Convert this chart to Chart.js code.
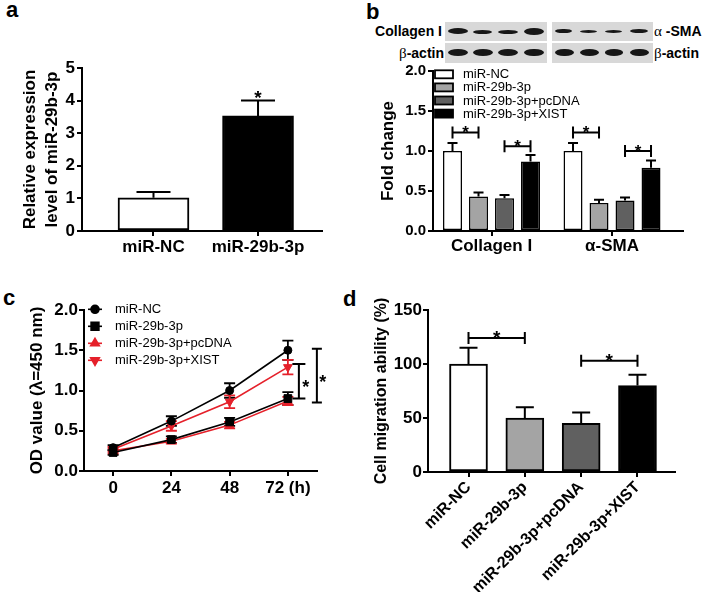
<!DOCTYPE html>
<html>
<head>
<meta charset="utf-8">
<script src="https://cdn.jsdelivr.net/npm/chart.js@4.4.1/dist/chart.umd.min.js"></script>
<style>
html,body{margin:0;padding:0;background:#fff;}
#fig{position:relative;width:708px;height:592px;overflow:hidden;background:#fff;font-family:"Liberation Sans",Arial,Helvetica,sans-serif;color:#000;}
#fig canvas{position:absolute;}
.panel{position:absolute;font-weight:bold;font-size:22px;line-height:22px;}
.blot{position:absolute;background:#d8d8d8;}
.band{position:absolute;background:#161616;border-radius:50%;filter:blur(0.7px);}
.blab{position:absolute;font-weight:bold;font-size:14px;line-height:16px;white-space:nowrap;}
.greek{font-weight:normal;font-family:"Liberation Serif","DejaVu Serif",serif;font-size:15px;}
</style>
</head>
<body>
<div id="fig">
  <div class="panel" style="left:6px;top:-1px;">a</div>
  <div class="panel" style="left:366px;top:1px;">b</div>
  <div class="panel" style="left:3px;top:287px;">c</div>
  <div class="panel" style="left:343px;top:288px;">d</div>

  <!-- western blot strips for panel b -->
  <div class="blot" style="left:445px;top:22px;width:102px;height:19px;"></div>
  <div class="blot" style="left:552px;top:22px;width:101px;height:19px;"></div>
  <div class="blot" style="left:445px;top:43px;width:102px;height:20px;"></div>
  <div class="blot" style="left:552px;top:43px;width:101px;height:20px;"></div>

  <div class="band" style="left:448px;top:28px;width:20px;height:6px;"></div>
  <div class="band" style="left:473px;top:29.5px;width:19px;height:4px;"></div>
  <div class="band" style="left:498px;top:29.5px;width:20px;height:4px;"></div>
  <div class="band" style="left:524px;top:28px;width:20px;height:7px;"></div>

  <div class="band" style="left:555px;top:28.5px;width:17px;height:4.5px;"></div>
  <div class="band" style="left:580px;top:29.5px;width:17px;height:3px;"></div>
  <div class="band" style="left:605px;top:29.5px;width:17px;height:3px;"></div>
  <div class="band" style="left:630px;top:28.5px;width:18px;height:4px;"></div>

  <div class="band" style="left:448px;top:49px;width:20px;height:7px;"></div>
  <div class="band" style="left:473px;top:49px;width:20px;height:7px;"></div>
  <div class="band" style="left:498px;top:49px;width:20px;height:7px;"></div>
  <div class="band" style="left:524px;top:48.5px;width:20px;height:7.5px;"></div>

  <div class="band" style="left:555px;top:48.5px;width:19px;height:7.5px;"></div>
  <div class="band" style="left:580px;top:49px;width:19px;height:7px;"></div>
  <div class="band" style="left:605px;top:49px;width:18px;height:6.5px;"></div>
  <div class="band" style="left:630px;top:48.5px;width:19px;height:7.5px;"></div>

  <div class="blab" style="right:266px;top:23px;">Collagen I</div>
  <div class="blab" style="right:264px;top:45px;"><span class="greek">β</span>-actin</div>
  <div class="blab" style="left:654px;top:23px;"><span class="greek">α</span> -SMA</div>
  <div class="blab" style="left:654px;top:45px;"><span class="greek">β</span>-actin</div>

  <canvas id="ca" width="340" height="240" style="left:0;top:40px;"></canvas>
  <canvas id="cb" width="328" height="230" style="left:380px;top:60px;"></canvas>
  <canvas id="cc" width="340" height="230" style="left:0;top:290px;"></canvas>
  <canvas id="cd" width="363" height="302" style="left:345px;top:290px;"></canvas>
</div>
<script>
// ---------------- DATA ----------------
// Panel a
const aCategories = ['miR-NC', 'miR-29b-3p'];
const aValues = [1.02, 3.53];
const aErrors = [0.18, 0.47];
const aYTicks = [0, 1, 2, 3, 4, 5];
const aSignificant = [false, true];

// Panel b
const bGroups = ['Collagen I', 'α-SMA'];
const bSeries = ['miR-NC', 'miR-29b-3p', 'miR-29b-3p+pcDNA', 'miR-29b-3p+XIST'];
const bNC = [1.00, 1.00];
const b29b = [0.43, 0.35];
const bPcDNA = [0.41, 0.38];
const bXIST = [0.87, 0.79];
const bErrNC = [0.10, 0.10];
const bErr29b = [0.05, 0.04];
const bErrPcDNA = [0.04, 0.04];
const bErrXIST = [0.08, 0.09];
const bYTicks = [0, 0.5, 1.0, 1.5, 2.0];
const bBrackets = [
  {group: 0, from: 0, to: 1, y: 1.23},
  {group: 0, from: 2, to: 3, y: 1.06},
  {group: 1, from: 0, to: 1, y: 1.23},
  {group: 1, from: 2, to: 3, y: 1.00}
];

// Panel c
const cHours = [0, 24, 48, 72];
const cSeries = ['miR-NC', 'miR-29b-3p', 'miR-29b-3p+pcDNA', 'miR-29b-3p+XIST'];
const cNC = [0.29, 0.62, 1.00, 1.50];
const c29b = [0.23, 0.39, 0.61, 0.90];
const cPcDNA = [0.25, 0.37, 0.57, 0.87];
const cXIST = [0.27, 0.56, 0.86, 1.29];
const cErrNC = [0.03, 0.06, 0.09, 0.12];
const cErr29b = [0.03, 0.04, 0.05, 0.08];
const cErrPcDNA = [0.03, 0.03, 0.04, 0.05];
const cErrXIST = [0.03, 0.06, 0.08, 0.09];
const cYTicks = [0, 0.5, 1.0, 1.5, 2.0];
const cBrackets = [{hi: 1.33, lo: 0.90}, {hi: 1.52, lo: 0.85}];

// Panel d
const dCategories = ['miR-NC', 'miR-29b-3p', 'miR-29b-3p+pcDNA', 'miR-29b-3p+XIST'];
const dValues = [100, 50, 45, 80];
const dErrors = [15, 10, 10, 10];
const dYTicks = [0, 50, 100, 150];
const dBrackets = [{from: 0, to: 1, y: 124}, {from: 2, to: 3, y: 103}];

// ---------------- STYLE ----------------
const FONT = '"Liberation Sans", Arial, Helvetica, sans-serif';
Chart.defaults.font.family = FONT;
Chart.defaults.color = '#000';
const grayFills = ['#ffffff', '#a4a4a4', '#606060', '#000000'];

function gridOpts(len) {
  return {display: true, drawOnChartArea: false, drawTicks: true, tickLength: len, color: '#000', lineWidth: 2, offset: false};
}
const borderOpts = {display: true, color: '#000', width: 2};

function drawErr(chart, opts) {
  const ctx = chart.ctx, ys = chart.scales.y;
  ctx.save();
  ctx.lineWidth = opts.lineWidth || 2;
  chart.data.datasets.forEach((ds, di) => {
    if (!ds.errors) return;
    const meta = chart.getDatasetMeta(di);
    ctx.strokeStyle = ds.errorColor || '#000';
    meta.data.forEach((el, i) => {
      const v = ds.data[i].y, e = ds.errors[i];
      const x = el.x;
      const yTop = ys.getPixelForValue(v + e);
      const yBot = ys.getPixelForValue(opts.both ? v - e : v);
      const hw = opts.cap / 2;
      ctx.beginPath();
      ctx.moveTo(x, yBot); ctx.lineTo(x, yTop);
      ctx.moveTo(x - hw, yTop); ctx.lineTo(x + hw, yTop);
      if (opts.both) { ctx.moveTo(x - hw, yBot); ctx.lineTo(x + hw, yBot); }
      ctx.stroke();
    });
  });
  ctx.restore();
}
const errPlugin = {
  id: 'errbars',
  beforeDatasetsDraw(chart, args, opts) { if (opts.before) drawErr(chart, opts); },
  afterDatasetsDraw(chart, args, opts) { if (!opts.before) drawErr(chart, opts); }
};

function drawBracket(ctx, x1, x2, y, tick) {
  ctx.beginPath();
  ctx.moveTo(x1, y); ctx.lineTo(x2, y);
  ctx.moveTo(x1, y - tick); ctx.lineTo(x1, y + tick);
  ctx.moveTo(x2, y - tick); ctx.lineTo(x2, y + tick);
  ctx.stroke();
}
function drawStar(ctx, x, baseline, size) {
  ctx.font = 'bold ' + size + 'px ' + FONT;
  ctx.textAlign = 'center';
  ctx.textBaseline = 'alphabetic';
  ctx.fillText('*', x, baseline);
}

function linearCatX(labels, min, max, height, fontSize, pad, rot) {
  return {
    type: 'linear', min: min, max: max, offset: false,
    afterBuildTicks: s => { s.ticks = labels.map((c, i) => ({value: i + 1})); },
    afterFit: s => { s.height = height; },
    ticks: {callback: v => labels[v - 1], font: {size: fontSize, weight: 'bold'}, padding: pad,
            autoSkip: false, minRotation: rot || 0, maxRotation: rot || 0},
    grid: gridOpts(5), border: borderOpts
  };
}
function valueY(ticks, width, fontSize, pad, fmt, title) {
  return {
    type: 'linear', min: ticks[0], max: ticks[ticks.length - 1],
    afterBuildTicks: s => { s.ticks = ticks.map(v => ({value: v})); },
    afterFit: s => { s.width = width; },
    ticks: {callback: fmt, font: {size: fontSize, weight: 'bold'}, padding: pad},
    grid: gridOpts(5), border: borderOpts,
    title: title
  };
}
const baseOpts = {responsive: false, animation: false, devicePixelRatio: 1, events: []};

// ---------------- PANEL A ----------------
new Chart(document.getElementById('ca'), {
  type: 'bar',
  data: {datasets: [{
    data: aValues.map((v, i) => ({x: i + 1, y: v})),
    errors: aErrors,
    backgroundColor: ['#ffffff', '#000000'], borderColor: '#000', borderWidth: 2, borderSkipped: false,
    barThickness: 71
  }]},
  options: Object.assign({}, baseOpts, {
    layout: {padding: {left: 0, top: 28, right: 18, bottom: 0}},
    plugins: {legend: {display: false}, tooltip: {enabled: false}, errbars: {cap: 34}},
    scales: {
      x: linearCatX(aCategories, 0.316, 2.612, 49, 17, 1),
      y: valueY(aYTicks, 82, 17, 2, v => String(v),
        {display: true, text: ['Relative expression', 'level of miR-29b-3p'],
         font: {size: 17, weight: 'bold', lineHeight: 1.32}, padding: {top: 19, bottom: 0}})
    }
  }),
  plugins: [errPlugin, {
    id: 'astar',
    afterDatasetsDraw(chart) {
      const ctx = chart.ctx, ys = chart.scales.y, meta = chart.getDatasetMeta(0);
      ctx.save(); ctx.fillStyle = '#000';
      aSignificant.forEach((s, i) => {
        if (!s) return;
        drawStar(ctx, meta.data[i].x, ys.getPixelForValue(aValues[i] + aErrors[i]) + 3, 19);
      });
      ctx.restore();
    }
  }]
});

// ---------------- PANEL B ----------------
const bValues = [bNC, b29b, bPcDNA, bXIST];
const bErrs = [bErrNC, bErr29b, bErrPcDNA, bErrXIST];
new Chart(document.getElementById('cb'), {
  type: 'bar',
  data: {datasets: bSeries.map((name, si) => ({
    label: name,
    data: bValues[si].map((v, gi) => ({x: gi + 1, y: v})),
    errors: bErrs[si],
    backgroundColor: grayFills[si], borderColor: '#000', borderWidth: 1.5, borderSkipped: false,
    categoryPercentage: 0.863, barPercentage: 0.73
  }))},
  options: Object.assign({}, baseOpts, {
    layout: {padding: {left: 0, top: 10, right: 25, bottom: 0}},
    plugins: {legend: {display: false}, tooltip: {enabled: false}, errbars: {cap: 10}},
    scales: {
      x: linearCatX(bGroups, 0.5145, 2.589, 59, 17, 0),
      y: valueY(bYTicks, 53, 15, 2, v => v.toFixed(1),
        {display: true, text: 'Fold change', font: {size: 17, weight: 'bold', lineHeight: 1}, padding: {top: 0, bottom: 0}})
    }
  }),
  plugins: [errPlugin, {
    id: 'bextras',
    afterDatasetsDraw(chart) {
      const ctx = chart.ctx, ys = chart.scales.y;
      ctx.save(); ctx.strokeStyle = '#000'; ctx.fillStyle = '#000'; ctx.lineWidth = 2;
      bBrackets.forEach(b => {
        const x1 = chart.getDatasetMeta(b.from).data[b.group].x;
        const x2 = chart.getDatasetMeta(b.to).data[b.group].x;
        const y = ys.getPixelForValue(b.y);
        drawBracket(ctx, x1, x2, y, 6);
        drawStar(ctx, (x1 + x2) / 2, y + 5.5, 17);
      });
      // legend
      const x0 = chart.chartArea.left + 2, y0 = chart.chartArea.top + 3.3, step = 13.1;
      ctx.font = '13px ' + FONT; ctx.textAlign = 'left'; ctx.textBaseline = 'middle';
      chart.data.datasets.forEach((ds, i) => {
        const y = y0 + i * step;
        ctx.fillStyle = ds.backgroundColor; ctx.fillRect(x0, y - 4, 18, 8);
        ctx.lineWidth = 1.8; ctx.strokeRect(x0, y - 4, 18, 8);
        ctx.fillStyle = '#000'; ctx.fillText(ds.label, x0 + 28, y + 0.5);
      });
      ctx.restore();
    }
  }]
});

// ---------------- PANEL C ----------------
const cValues = [cNC, c29b, cPcDNA, cXIST];
const cErrs = [cErrNC, cErr29b, cErrPcDNA, cErrXIST];
const cColors = ['#000000', '#000000', '#e5202a', '#e5202a'];
const cStyles = ['circle', 'rect', 'triangle', 'triangle'];
const cRot = [0, 0, 0, 180];
const cRadius = [4, 5.5, 5, 5];
new Chart(document.getElementById('cc'), {
  type: 'line',
  data: {datasets: cSeries.map((name, si) => ({
    label: name,
    data: cValues[si].map((v, i) => ({x: cHours[i], y: v})),
    errors: cErrs[si], errorColor: cColors[si],
    borderColor: cColors[si], backgroundColor: cColors[si], borderWidth: 1.6,
    pointStyle: cStyles[si], pointRotation: cRot[si], pointRadius: cRadius[si],
    pointBackgroundColor: cColors[si], pointBorderColor: cColors[si], pointBorderWidth: 1,
    tension: 0, fill: false
  }))},
  options: Object.assign({}, baseOpts, {
    layout: {padding: {left: 0, top: 20, right: 23, bottom: 0}},
    plugins: {legend: {display: false}, tooltip: {enabled: false}, errbars: {cap: 11, both: true, before: true, lineWidth: 1.8}},
    scales: {
      x: {
        type: 'linear', min: -12, max: 84, offset: false,
        afterBuildTicks: s => { s.ticks = cHours.map(v => ({value: v})); },
        afterFit: s => { s.height = 49; },
        ticks: {callback: v => v === cHours[cHours.length - 1] ? v + ' (h)' : String(v),
                font: {size: 17, weight: 'bold'}, padding: 2, autoSkip: false, maxRotation: 0},
        grid: gridOpts(5), border: borderOpts
      },
      y: valueY(cYTicks, 84, 17, 1, v => v.toFixed(1),
        {display: true, text: 'OD value (λ=450 nm)', font: {size: 17, weight: 'bold', lineHeight: 1.2}, padding: {top: 27, bottom: 0}})
    }
  }),
  plugins: [errPlugin, {
    id: 'cextras',
    afterDatasetsDraw(chart) {
      const ctx = chart.ctx, xs = chart.scales.x, ys = chart.scales.y;
      ctx.save(); ctx.strokeStyle = '#000'; ctx.fillStyle = '#000'; ctx.lineWidth = 2;
      const xLast = xs.getPixelForValue(cHours[cHours.length - 1]);
      const offs = [11, 29], caps = [6.5, 5], starOff = [6, 5];
      cBrackets.forEach((b, i) => {
        const x = xLast + offs[i];
        const yT = ys.getPixelForValue(b.hi), yB = ys.getPixelForValue(b.lo);
        ctx.beginPath();
        ctx.moveTo(x, yT); ctx.lineTo(x, yB);
        ctx.moveTo(x - caps[i], yT); ctx.lineTo(x + caps[i], yT);
        ctx.moveTo(x - caps[i], yB); ctx.lineTo(x + caps[i], yB);
        ctx.stroke();
        drawStar(ctx, x + starOff[i] + 1, (yT + yB) / 2 + 12, 18);
      });
      // legend
      const lx0 = 88, lx1 = 102, ly0 = chart.chartArea.top - 0.7, step = 17;
      ctx.font = '13px ' + FONT; ctx.textAlign = 'left'; ctx.textBaseline = 'middle';
      chart.data.datasets.forEach((ds, i) => {
        const y = ly0 + i * step;
        ctx.strokeStyle = ds.borderColor; ctx.fillStyle = ds.borderColor; ctx.lineWidth = 1.6;
        ctx.beginPath(); ctx.moveTo(lx0, y); ctx.lineTo(lx1, y); ctx.stroke();
        Chart.helpers.drawPoint(ctx, {pointStyle: ds.pointStyle, rotation: ds.pointRotation, radius: ds.pointRadius, borderWidth: 1}, (lx0 + lx1) / 2, y);
        ctx.fillStyle = '#000'; ctx.fillText(ds.label, 115, y + 0.5);
      });
      ctx.restore();
    }
  }]
});

// ---------------- PANEL D ----------------
new Chart(document.getElementById('cd'), {
  type: 'bar',
  data: {datasets: [{
    data: dValues.map((v, i) => ({x: i + 1, y: v})),
    errors: dErrors,
    backgroundColor: grayFills, borderColor: '#000', borderWidth: 2, borderSkipped: false,
    barThickness: 38
  }]},
  options: Object.assign({}, baseOpts, {
    layout: {padding: {left: 0, top: 20, right: 33, bottom: 0}},
    plugins: {legend: {display: false}, tooltip: {enabled: false}, errbars: {cap: 18}},
    scales: {
      x: linearCatX(dCategories, 0.281, 4.666, 120, 16, 1, 45),
      y: valueY(dYTicks, 83, 17, 1, v => String(v),
        {display: true, text: 'Cell migration ability (%)', font: {size: 16, weight: 'bold', lineHeight: 1.2}, padding: {top: 27, bottom: 0}})
    }
  }),
  plugins: [errPlugin, {
    id: 'dextras',
    afterDatasetsDraw(chart) {
      const ctx = chart.ctx, ys = chart.scales.y, meta = chart.getDatasetMeta(0);
      ctx.save(); ctx.strokeStyle = '#000'; ctx.fillStyle = '#000'; ctx.lineWidth = 2;
      dBrackets.forEach(b => {
        const x1 = meta.data[b.from].x, x2 = meta.data[b.to].x;
        const y = ys.getPixelForValue(b.y);
        drawBracket(ctx, x1, x2, y, 6);
        drawStar(ctx, (x1 + x2) / 2, y + 6, 19);
      });
      ctx.restore();
    }
  }]
});
</script>
</body>
</html>
